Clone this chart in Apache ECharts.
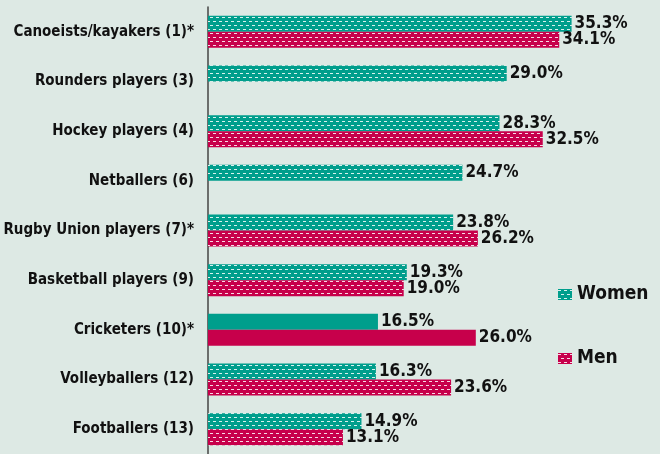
<!DOCTYPE html>
<html>
<head>
<meta charset="utf-8">
<script src="https://cdn.jsdelivr.net/npm/echarts@6/dist/echarts.min.js"></script>
<style>
  html, body { margin: 0; padding: 0; background: #dde9e4; }
  #chart { width: 660px; height: 454px; }
</style>
</head>
<body>
<div id="chart"></div>
<script>
const categories = [
  "Canoeists/kayakers (1)*",
  "Rounders players (3)",
  "Hockey players (4)",
  "Netballers (6)",
  "Rugby Union players (7)*",
  "Basketball players (9)",
  "Cricketers (10)*",
  "Volleyballers (12)",
  "Footballers (13)",
];
const women = [35.3, 29.0, 28.3, 24.7, 23.8, 19.3, 16.5, 16.3, 14.9];
const men = [34.1, null, 32.5, null, 26.2, 19.0, 26.0, 23.6, 13.1];
const solidIndex = 6; // cricketers drawn in plain colour

const TEAL = "#009e8c";
const RED = "#c7004b";

// small white dash texture like the original print pattern
function makePattern(base) {
  const c = document.createElement("canvas");
  c.width = 6;
  c.height = 8;
  const ctx = c.getContext("2d");
  ctx.fillStyle = base;
  ctx.fillRect(0, 0, 6, 8);
  ctx.fillStyle = "rgba(255,255,255,0.85)";
  ctx.fillRect(0, 1, 3, 1);
  ctx.fillRect(3, 5, 3, 1);
  return { image: c, repeat: "repeat" };
}

const font = "'DejaVu Sans Condensed', 'Liberation Sans', sans-serif";

function toItems(arr, solid) {
  return arr.map((v, i) =>
    i === solidIndex ? { value: v, itemStyle: { color: solid } } : v
  );
}

const valueLabel = {
  show: true,
  position: "right",
  distance: 3,
  fontFamily: font,
  fontWeight: "bold",
  fontSize: 17,
  color: "#111",
  formatter: (p) => p.value.toFixed(1) + "%",
};

const chart = echarts.init(document.getElementById("chart"));
chart.setOption({
  animation: false,
  backgroundColor: "#dde9e4",
  grid: { left: 208, right: 40, top: 7, bottom: -3 },
  legend: {
    orient: "vertical",
    left: 553,
    top: 280,
    itemWidth: 14,
    itemHeight: 11,
    itemGap: 45,
    icon: "rect",
    textStyle: { fontFamily: font, fontWeight: "bold", fontSize: 19, color: "#111" },
    data: ["Women", "Men"],
  },
  xAxis: {
    type: "value",
    min: 0,
    max: 40,
    show: false,
  },
  yAxis: {
    type: "category",
    inverse: true,
    data: categories,
    axisLine: { show: true, lineStyle: { color: "#444", width: 1.5 } },
    axisTick: { show: false },
    axisLabel: {
      margin: 14,
      fontFamily: font,
      fontWeight: "bold",
      fontSize: 15,
      color: "#111",
    },
  },
  series: [
    {
      name: "Women",
      type: "bar",
      barWidth: 16,
      barGap: "0%",
      itemStyle: { color: makePattern(TEAL) },
      label: valueLabel,
      data: toItems(women, TEAL),
    },
    {
      name: "Men",
      type: "bar",
      barWidth: 16,
      barGap: "0%",
      itemStyle: { color: makePattern(RED) },
      label: valueLabel,
      data: toItems(men, RED),
    },
  ],
});
</script>
</body>
</html>
